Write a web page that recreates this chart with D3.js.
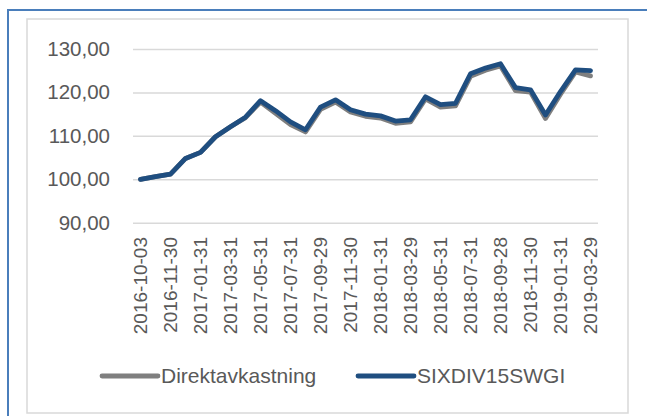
<!DOCTYPE html>
<html>
<head>
<meta charset="utf-8">
<script src="https://cdnjs.cloudflare.com/ajax/libs/d3/7.8.5/d3.min.js"></script>
<style>
	body { margin: 0; background: #fff; }
	svg { display: block; }
</style>
</head>
<body>
<svg id="chart" width="647" height="416"></svg>
<script>

// Data
const dates = [
	"2016-10-03", "2016-10-31", "2016-11-30", "2016-12-30", "2017-01-31", "2017-02-28",
	"2017-03-31", "2017-04-28", "2017-05-31", "2017-06-30", "2017-07-31", "2017-08-31",
	"2017-09-29", "2017-10-31", "2017-11-30", "2017-12-29", "2018-01-31", "2018-02-28",
	"2018-03-29", "2018-04-30", "2018-05-31", "2018-06-29", "2018-07-31", "2018-08-31",
	"2018-09-28", "2018-10-31", "2018-11-30", "2018-12-28", "2019-01-31", "2019-02-28",
	"2019-03-29"
];
const direktavkastning = [
	100.0, 100.6, 101.2, 104.8, 106.2, 109.8, 112.1, 114.2, 117.8, 115.2, 112.6, 110.9,
	116.1, 117.8, 115.5, 114.5, 114.1, 112.9, 113.2, 118.5, 116.6, 116.9, 123.7, 125.1,
	126.1, 120.4, 120.1, 114.0, 119.6, 124.7, 123.8
];
const sixdiv15swgi = [
	100.0, 100.6, 101.2, 104.8, 106.2, 109.8, 112.1, 114.3, 118.1, 115.8, 113.2, 111.4,
	116.6, 118.3, 116.0, 115.0, 114.6, 113.4, 113.7, 119.0, 117.2, 117.5, 124.3, 125.6,
	126.6, 121.1, 120.6, 114.8, 120.2, 125.2, 125.0
];
const yTicks = [90, 100, 110, 120, 130];
const series = [
	{name: "Direktavkastning", values: direktavkastning, color: "#7f7f7f"},
	{name: "SIXDIV15SWGI", values: sixdiv15swgi, color: "#1f4e80"}
];

const svg = d3.select("#chart");
const textColor = "#595959";
const font = "Liberation Sans, Arial, sans-serif";

// Frames
svg.append("rect")
	.attr("x", 8).attr("y", 10)
	.attr("width", 660).attr("height", 430)
	.attr("fill", "none")
	.attr("stroke", "#4a7ebb")
	.attr("stroke-width", 2);

svg.append("rect")
	.attr("x", 27).attr("y", 19)
	.attr("width", 601).attr("height", 394)
	.attr("fill", "#fff")
	.attr("stroke", "#d9d9d9")
	.attr("stroke-width", 1.5);

// Scales
const x = d3.scaleBand()
	.domain(dates)
	.range([133, 598]);

const y = d3.scaleLinear()
	.domain([90, 130])
	.range([222.7, 49]);

// Y axis with gridlines
const yAxis = svg.append("g")
	.attr("transform", "translate(133,0)")
	.call(d3.axisLeft(y)
		.tickValues(yTicks)
		.tickSize(-465)
		.tickPadding(23)
		.tickFormat(d => d3.format(".2f")(d).replace(".", ",")));

yAxis.select(".domain").remove();
yAxis.selectAll("line")
	.attr("stroke", "#d9d9d9")
	.attr("stroke-width", 1.5);
yAxis.selectAll("text")
	.attr("fill", textColor)
	.style("font-family", font)
	.style("font-size", "20.5px");

// X axis labels (every other category)
const xAxis = svg.append("g")
	.attr("transform", "translate(0,237)")
	.call(d3.axisBottom(x)
		.tickValues(dates.filter((d, i) => i % 2 === 0))
		.tickSize(0)
		.tickPadding(0));

xAxis.select(".domain").remove();
xAxis.selectAll("text")
	.attr("fill", textColor)
	.style("font-family", font)
	.style("font-size", "19px")
	.attr("text-anchor", "end")
	.attr("transform", "rotate(-90)")
	.attr("x", 0)
	.attr("y", 0)
	.attr("dy", "0.35em");

// Lines
const line = d3.line()
	.x((d, i) => x(dates[i]) + x.bandwidth() / 2)
	.y(d => y(d));

svg.append("g")
	.selectAll("path")
	.data(series)
	.join("path")
	.attr("d", d => line(d.values))
	.attr("fill", "none")
	.attr("stroke", d => d.color)
	.attr("stroke-width", 4.8)
	.attr("stroke-linejoin", "round")
	.attr("stroke-linecap", "round");

// Legend
const legendX = [102, 358];
const legend = svg.append("g")
	.selectAll("g")
	.data(series)
	.join("g")
	.attr("transform", (d, i) => `translate(${legendX[i]},376)`);

legend.append("line")
	.attr("x1", 0).attr("x2", 56)
	.attr("stroke", d => d.color)
	.attr("stroke-width", 4.8)
	.attr("stroke-linecap", "round");

legend.append("text")
	.attr("x", 59)
	.attr("dy", "0.35em")
	.text(d => d.name)
	.attr("fill", textColor)
	.style("font-family", font)
	.style("font-size", "21px");

</script>
</body>
</html>
